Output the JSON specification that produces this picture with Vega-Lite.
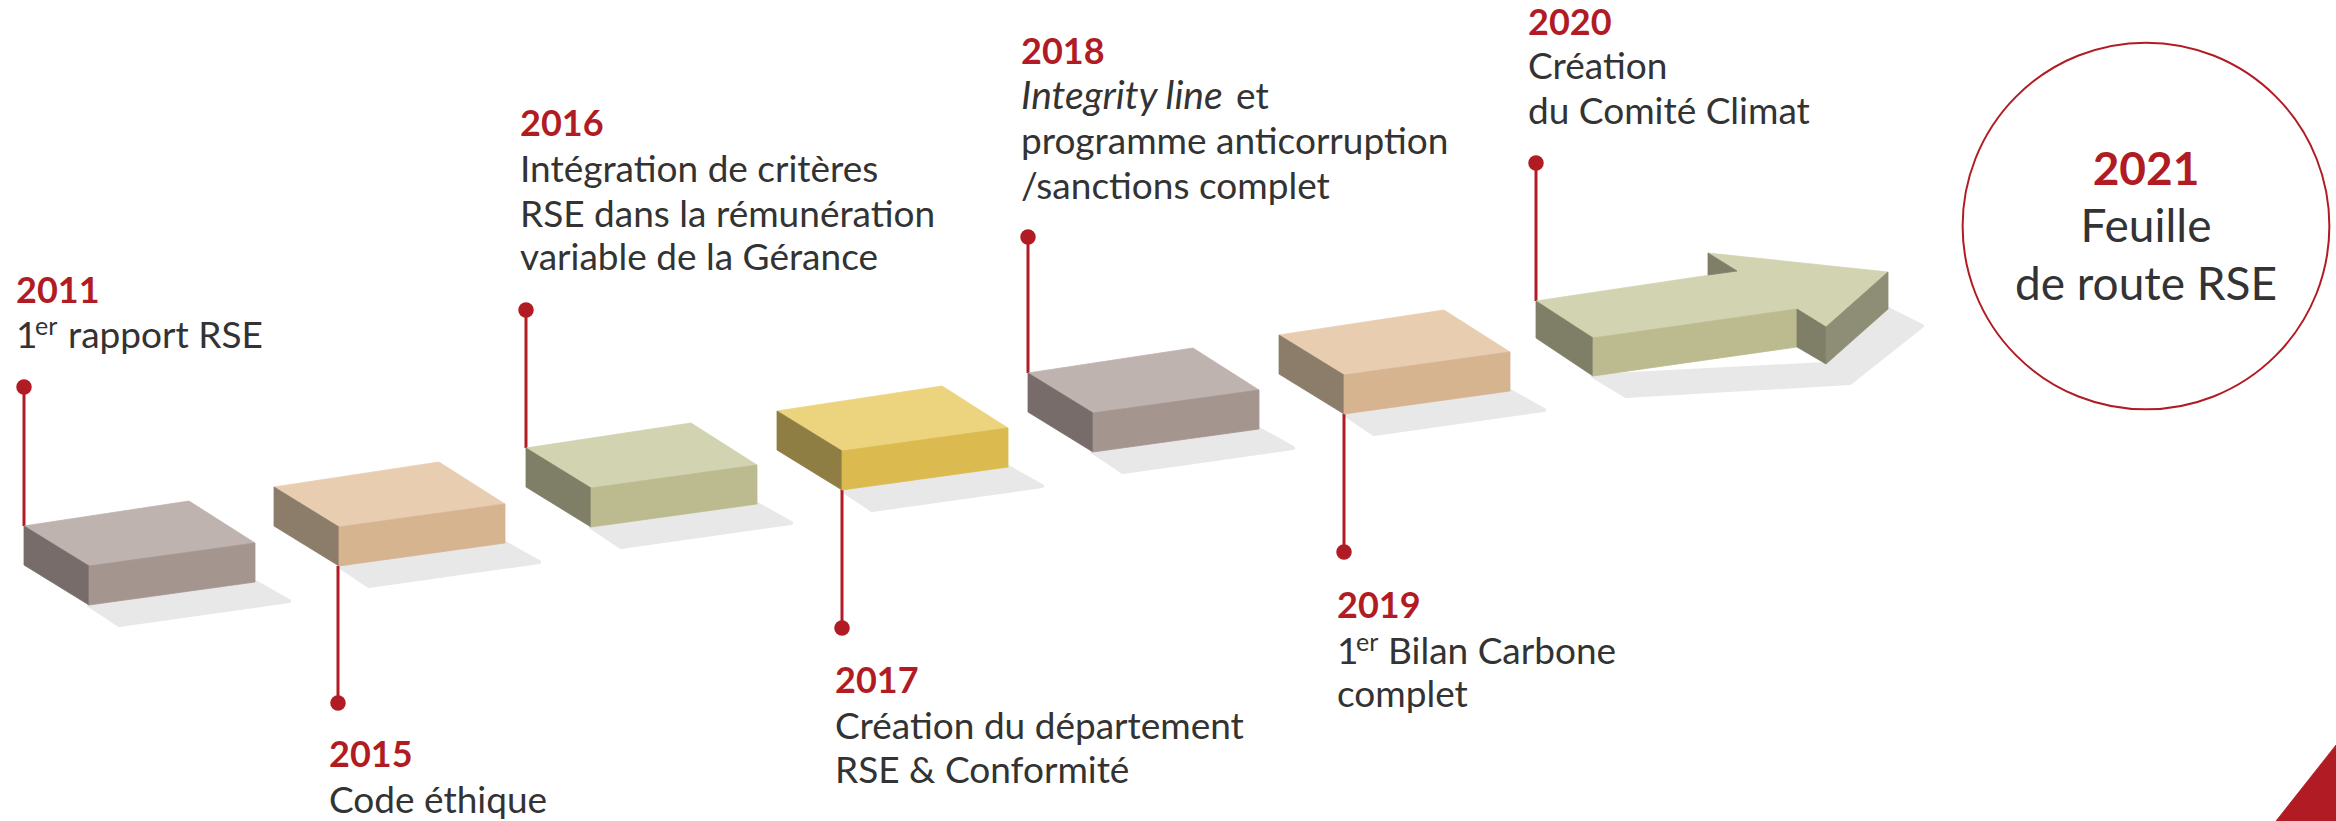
{
  "$schema": "https://vega.github.io/schema/vega-lite/v6.json",
  "width": 2336,
  "height": 821,
  "autosize": {"type": "none"},
  "padding": 0,
  "background": "white",
  "config": {"view": {"stroke": null}},
  "encoding": {
    "x": {"field": "x", "type": "quantitative", "scale": {"domain": [0, 2336], "nice": false, "zero": false}, "axis": null},
    "y": {"field": "y", "type": "quantitative", "scale": {"domain": [0, 821], "reverse": true, "nice": false, "zero": false}, "axis": null}
  },
  "layer": [
    {
      "data": {"values": [
        {"p": "s1", "i": 0, "x": 89, "y": 605}, {"p": "s1", "i": 1, "x": 255, "y": 582}, {"p": "s1", "i": 2, "x": 289, "y": 601}, {"p": "s1", "i": 3, "x": 119, "y": 625},
        {"p": "s2", "i": 0, "x": 339, "y": 566}, {"p": "s2", "i": 1, "x": 505, "y": 543}, {"p": "s2", "i": 2, "x": 539, "y": 562}, {"p": "s2", "i": 3, "x": 369, "y": 586},
        {"p": "s3", "i": 0, "x": 591, "y": 527}, {"p": "s3", "i": 1, "x": 757, "y": 504}, {"p": "s3", "i": 2, "x": 791, "y": 523}, {"p": "s3", "i": 3, "x": 621, "y": 547},
        {"p": "s4", "i": 0, "x": 842, "y": 490}, {"p": "s4", "i": 1, "x": 1008, "y": 467}, {"p": "s4", "i": 2, "x": 1042, "y": 486}, {"p": "s4", "i": 3, "x": 872, "y": 510},
        {"p": "s5", "i": 0, "x": 1093, "y": 452}, {"p": "s5", "i": 1, "x": 1259, "y": 429}, {"p": "s5", "i": 2, "x": 1293, "y": 448}, {"p": "s5", "i": 3, "x": 1123, "y": 472},
        {"p": "s6", "i": 0, "x": 1344, "y": 414}, {"p": "s6", "i": 1, "x": 1510, "y": 391}, {"p": "s6", "i": 2, "x": 1544, "y": 410}, {"p": "s6", "i": 3, "x": 1374, "y": 434},
        {"p": "s7", "i": 0, "x": 1593, "y": 376}, {"p": "s7", "i": 1, "x": 1826, "y": 364}, {"p": "s7", "i": 2, "x": 1888, "y": 309}, {"p": "s7", "i": 3, "x": 1922, "y": 326}, {"p": "s7", "i": 4, "x": 1850, "y": 383}, {"p": "s7", "i": 5, "x": 1626, "y": 396}
      ]},
      "mark": {"type": "line", "interpolate": "linear-closed", "fill": "#e6e6e6", "stroke": "#e6e6e6", "strokeWidth": 4, "strokeJoin": "round", "opacity": 0.9},
      "encoding": {"detail": {"field": "p"}, "order": {"field": "i", "type": "quantitative"}}
    },
    {
      "data": {"values": [
        {"x": 24, "y": 387, "y2": 526},
        {"x": 338, "y": 566, "y2": 703},
        {"x": 526, "y": 310, "y2": 448},
        {"x": 842, "y": 490, "y2": 628},
        {"x": 1028, "y": 237, "y2": 373},
        {"x": 1344, "y": 414, "y2": 552},
        {"x": 1536, "y": 163, "y2": 301}
      ]},
      "mark": {"type": "rule", "color": "#B11C24", "strokeWidth": 3},
      "encoding": {"y2": {"field": "y2"}}
    },
    {
      "data": {"values": [
        {"p": "b1t", "tone": "mauve-top", "i": 0, "x": 24, "y": 526}, {"p": "b1t", "tone": "mauve-top", "i": 1, "x": 189, "y": 501}, {"p": "b1t", "tone": "mauve-top", "i": 2, "x": 255, "y": 543}, {"p": "b1t", "tone": "mauve-top", "i": 3, "x": 89, "y": 566},
        {"p": "b1l", "tone": "mauve-left", "i": 0, "x": 24, "y": 526}, {"p": "b1l", "tone": "mauve-left", "i": 1, "x": 89, "y": 566}, {"p": "b1l", "tone": "mauve-left", "i": 2, "x": 89, "y": 605}, {"p": "b1l", "tone": "mauve-left", "i": 3, "x": 24, "y": 565},
        {"p": "b1f", "tone": "mauve-front", "i": 0, "x": 89, "y": 566}, {"p": "b1f", "tone": "mauve-front", "i": 1, "x": 255, "y": 543}, {"p": "b1f", "tone": "mauve-front", "i": 2, "x": 255, "y": 582}, {"p": "b1f", "tone": "mauve-front", "i": 3, "x": 89, "y": 605},

        {"p": "b2t", "tone": "tan-top", "i": 0, "x": 274, "y": 487}, {"p": "b2t", "tone": "tan-top", "i": 1, "x": 439, "y": 462}, {"p": "b2t", "tone": "tan-top", "i": 2, "x": 505, "y": 504}, {"p": "b2t", "tone": "tan-top", "i": 3, "x": 339, "y": 527},
        {"p": "b2l", "tone": "tan-left", "i": 0, "x": 274, "y": 487}, {"p": "b2l", "tone": "tan-left", "i": 1, "x": 339, "y": 527}, {"p": "b2l", "tone": "tan-left", "i": 2, "x": 339, "y": 566}, {"p": "b2l", "tone": "tan-left", "i": 3, "x": 274, "y": 526},
        {"p": "b2f", "tone": "tan-front", "i": 0, "x": 339, "y": 527}, {"p": "b2f", "tone": "tan-front", "i": 1, "x": 505, "y": 504}, {"p": "b2f", "tone": "tan-front", "i": 2, "x": 505, "y": 543}, {"p": "b2f", "tone": "tan-front", "i": 3, "x": 339, "y": 566},

        {"p": "b3t", "tone": "green-top", "i": 0, "x": 526, "y": 448}, {"p": "b3t", "tone": "green-top", "i": 1, "x": 691, "y": 423}, {"p": "b3t", "tone": "green-top", "i": 2, "x": 757, "y": 465}, {"p": "b3t", "tone": "green-top", "i": 3, "x": 591, "y": 488},
        {"p": "b3l", "tone": "green-left", "i": 0, "x": 526, "y": 448}, {"p": "b3l", "tone": "green-left", "i": 1, "x": 591, "y": 488}, {"p": "b3l", "tone": "green-left", "i": 2, "x": 591, "y": 527}, {"p": "b3l", "tone": "green-left", "i": 3, "x": 526, "y": 487},
        {"p": "b3f", "tone": "green-front", "i": 0, "x": 591, "y": 488}, {"p": "b3f", "tone": "green-front", "i": 1, "x": 757, "y": 465}, {"p": "b3f", "tone": "green-front", "i": 2, "x": 757, "y": 504}, {"p": "b3f", "tone": "green-front", "i": 3, "x": 591, "y": 527},

        {"p": "b4t", "tone": "yellow-top", "i": 0, "x": 777, "y": 411}, {"p": "b4t", "tone": "yellow-top", "i": 1, "x": 942, "y": 386}, {"p": "b4t", "tone": "yellow-top", "i": 2, "x": 1008, "y": 428}, {"p": "b4t", "tone": "yellow-top", "i": 3, "x": 842, "y": 451},
        {"p": "b4l", "tone": "yellow-left", "i": 0, "x": 777, "y": 411}, {"p": "b4l", "tone": "yellow-left", "i": 1, "x": 842, "y": 451}, {"p": "b4l", "tone": "yellow-left", "i": 2, "x": 842, "y": 490}, {"p": "b4l", "tone": "yellow-left", "i": 3, "x": 777, "y": 450},
        {"p": "b4f", "tone": "yellow-front", "i": 0, "x": 842, "y": 451}, {"p": "b4f", "tone": "yellow-front", "i": 1, "x": 1008, "y": 428}, {"p": "b4f", "tone": "yellow-front", "i": 2, "x": 1008, "y": 467}, {"p": "b4f", "tone": "yellow-front", "i": 3, "x": 842, "y": 490},

        {"p": "b5t", "tone": "mauve-top", "i": 0, "x": 1028, "y": 373}, {"p": "b5t", "tone": "mauve-top", "i": 1, "x": 1193, "y": 348}, {"p": "b5t", "tone": "mauve-top", "i": 2, "x": 1259, "y": 390}, {"p": "b5t", "tone": "mauve-top", "i": 3, "x": 1093, "y": 413},
        {"p": "b5l", "tone": "mauve-left", "i": 0, "x": 1028, "y": 373}, {"p": "b5l", "tone": "mauve-left", "i": 1, "x": 1093, "y": 413}, {"p": "b5l", "tone": "mauve-left", "i": 2, "x": 1093, "y": 452}, {"p": "b5l", "tone": "mauve-left", "i": 3, "x": 1028, "y": 412},
        {"p": "b5f", "tone": "mauve-front", "i": 0, "x": 1093, "y": 413}, {"p": "b5f", "tone": "mauve-front", "i": 1, "x": 1259, "y": 390}, {"p": "b5f", "tone": "mauve-front", "i": 2, "x": 1259, "y": 429}, {"p": "b5f", "tone": "mauve-front", "i": 3, "x": 1093, "y": 452},

        {"p": "b6t", "tone": "tan-top", "i": 0, "x": 1279, "y": 335}, {"p": "b6t", "tone": "tan-top", "i": 1, "x": 1444, "y": 310}, {"p": "b6t", "tone": "tan-top", "i": 2, "x": 1510, "y": 352}, {"p": "b6t", "tone": "tan-top", "i": 3, "x": 1344, "y": 375},
        {"p": "b6l", "tone": "tan-left", "i": 0, "x": 1279, "y": 335}, {"p": "b6l", "tone": "tan-left", "i": 1, "x": 1344, "y": 375}, {"p": "b6l", "tone": "tan-left", "i": 2, "x": 1344, "y": 414}, {"p": "b6l", "tone": "tan-left", "i": 3, "x": 1279, "y": 374},
        {"p": "b6f", "tone": "tan-front", "i": 0, "x": 1344, "y": 375}, {"p": "b6f", "tone": "tan-front", "i": 1, "x": 1510, "y": 352}, {"p": "b6f", "tone": "tan-front", "i": 2, "x": 1510, "y": 391}, {"p": "b6f", "tone": "tan-front", "i": 3, "x": 1344, "y": 414},

        {"p": "a-top", "tone": "green-top", "i": 0, "x": 1536, "y": 301}, {"p": "a-top", "tone": "green-top", "i": 1, "x": 1737, "y": 271}, {"p": "a-top", "tone": "green-top", "i": 2, "x": 1708, "y": 253}, {"p": "a-top", "tone": "green-top", "i": 3, "x": 1888, "y": 272}, {"p": "a-top", "tone": "green-top", "i": 4, "x": 1826, "y": 327}, {"p": "a-top", "tone": "green-top", "i": 5, "x": 1797, "y": 309}, {"p": "a-top", "tone": "green-top", "i": 6, "x": 1593, "y": 338},
        {"p": "a-back", "tone": "green-left", "i": 0, "x": 1708, "y": 253}, {"p": "a-back", "tone": "green-left", "i": 1, "x": 1737, "y": 271}, {"p": "a-back", "tone": "green-left", "i": 2, "x": 1708, "y": 275},
        {"p": "a-left", "tone": "green-left", "i": 0, "x": 1536, "y": 301}, {"p": "a-left", "tone": "green-left", "i": 1, "x": 1593, "y": 338}, {"p": "a-left", "tone": "green-left", "i": 2, "x": 1593, "y": 376}, {"p": "a-left", "tone": "green-left", "i": 3, "x": 1536, "y": 338},
        {"p": "a-front", "tone": "green-front", "i": 0, "x": 1593, "y": 338}, {"p": "a-front", "tone": "green-front", "i": 1, "x": 1797, "y": 309}, {"p": "a-front", "tone": "green-front", "i": 2, "x": 1797, "y": 347}, {"p": "a-front", "tone": "green-front", "i": 3, "x": 1593, "y": 376},
        {"p": "a-notch", "tone": "green-left", "i": 0, "x": 1797, "y": 309}, {"p": "a-notch", "tone": "green-left", "i": 1, "x": 1826, "y": 327}, {"p": "a-notch", "tone": "green-left", "i": 2, "x": 1826, "y": 364}, {"p": "a-notch", "tone": "green-left", "i": 3, "x": 1797, "y": 347},
        {"p": "a-head", "tone": "green-head", "i": 0, "x": 1826, "y": 327}, {"p": "a-head", "tone": "green-head", "i": 1, "x": 1888, "y": 272}, {"p": "a-head", "tone": "green-head", "i": 2, "x": 1888, "y": 309}, {"p": "a-head", "tone": "green-head", "i": 3, "x": 1826, "y": 364},

        {"p": "corner", "tone": "red", "i": 0, "x": 2336, "y": 745}, {"p": "corner", "tone": "red", "i": 1, "x": 2336, "y": 821}, {"p": "corner", "tone": "red", "i": 2, "x": 2276, "y": 821}
      ]},
      "mark": {"type": "line", "interpolate": "linear-closed", "strokeWidth": 0.8, "strokeJoin": "miter"},
      "encoding": {
        "detail": {"field": "p"},
        "order": {"field": "i", "type": "quantitative"},
        "fill": {"field": "tone", "type": "nominal", "legend": null, "scale": {
          "domain": ["mauve-top", "mauve-left", "mauve-front", "tan-top", "tan-left", "tan-front", "green-top", "green-left", "green-front", "green-head", "yellow-top", "yellow-left", "yellow-front", "red"],
          "range": ["#BFB3AF", "#776C69", "#A4958F", "#E8CDB0", "#8B7D69", "#D6B490", "#D2D3B0", "#7F7F67", "#BBBB8F", "#8E8E77", "#ECD37E", "#8F7E44", "#DBBA4F", "#B11C24"]}},
        "stroke": {"field": "tone", "type": "nominal", "legend": null, "scale": {
          "domain": ["mauve-top", "mauve-left", "mauve-front", "tan-top", "tan-left", "tan-front", "green-top", "green-left", "green-front", "green-head", "yellow-top", "yellow-left", "yellow-front", "red"],
          "range": ["#BFB3AF", "#776C69", "#A4958F", "#E8CDB0", "#8B7D69", "#D6B490", "#D2D3B0", "#7F7F67", "#BBBB8F", "#8E8E77", "#ECD37E", "#8F7E44", "#DBBA4F", "#B11C24"]}}
      }
    },
    {
      "data": {"values": [
        {"x": 24, "y": 387}, {"x": 338, "y": 703}, {"x": 526, "y": 310}, {"x": 842, "y": 628},
        {"x": 1028, "y": 237}, {"x": 1344, "y": 552}, {"x": 1536, "y": 163}
      ]},
      "mark": {"type": "circle", "size": 240, "color": "#B11C24", "opacity": 1}
    },
    {
      "data": {"values": [{"x": 2146, "y": 226}]},
      "mark": {"type": "point", "shape": "circle", "size": 134500, "filled": false, "stroke": "#B11C24", "strokeWidth": 2, "opacity": 1}
    },
    {
      "data": {"values": [
        {"x": 16, "y": 303, "t": "2011"},
        {"x": 329, "y": 767, "t": "2015"},
        {"x": 520, "y": 136, "t": "2016"},
        {"x": 835, "y": 693, "t": "2017"},
        {"x": 1021, "y": 64, "t": "2018"},
        {"x": 1337, "y": 618, "t": "2019"},
        {"x": 1528, "y": 35, "t": "2020"}
      ]},
      "mark": {"type": "text", "font": "Lato", "fontSize": 36, "fontWeight": "bold", "color": "#B11C24", "align": "left", "baseline": "alphabetic"},
      "encoding": {"text": {"field": "t"}}
    },
    {
      "data": {"values": [
        {"x": 16, "y": 348, "t": "1"},
        {"x": 68, "y": 348, "t": "rapport RSE"},
        {"x": 329, "y": 813, "t": "Code éthique"},
        {"x": 520, "y": 182, "t": "Intégration de critères"},
        {"x": 520, "y": 227, "t": "RSE dans la rémunération"},
        {"x": 520, "y": 270, "t": "variable de la Gérance"},
        {"x": 835, "y": 739, "t": "Création du département"},
        {"x": 835, "y": 783, "t": "RSE & Conformité"},
        {"x": 1236, "y": 109, "t": "et"},
        {"x": 1021, "y": 154, "t": "programme anticorruption"},
        {"x": 1021, "y": 199, "t": "/sanctions complet"},
        {"x": 1337, "y": 664, "t": "1"},
        {"x": 1388, "y": 664, "t": "Bilan Carbone"},
        {"x": 1337, "y": 707, "t": "complet"},
        {"x": 1528, "y": 79, "t": "Création"},
        {"x": 1528, "y": 124, "t": "du Comité Climat"}
      ]},
      "mark": {"type": "text", "font": "Lato", "fontSize": 37, "color": "#333333", "align": "left", "baseline": "alphabetic"},
      "encoding": {"text": {"field": "t"}}
    },
    {
      "data": {"values": [{"x": 1021, "y": 109, "t": "Integrity line"}]},
      "mark": {"type": "text", "font": "Lato", "fontSize": 39, "fontStyle": "italic", "color": "#333333", "align": "left", "baseline": "alphabetic"},
      "encoding": {"text": {"field": "t"}}
    },
    {
      "data": {"values": [{"x": 35, "y": 335, "t": "er"}, {"x": 1356, "y": 651, "t": "er"}]},
      "mark": {"type": "text", "font": "Lato", "fontSize": 25, "color": "#333333", "align": "left", "baseline": "alphabetic"},
      "encoding": {"text": {"field": "t"}}
    },
    {
      "data": {"values": [{"x": 2146, "y": 185, "t": "2021"}]},
      "mark": {"type": "text", "font": "Lato", "fontSize": 46, "fontWeight": "bold", "color": "#B11C24", "align": "center", "baseline": "alphabetic"},
      "encoding": {"text": {"field": "t"}}
    },
    {
      "data": {"values": [{"x": 2146, "y": 242, "t": "Feuille"}, {"x": 2146, "y": 300, "t": "de route RSE"}]},
      "mark": {"type": "text", "font": "Lato", "fontSize": 46, "color": "#333333", "align": "center", "baseline": "alphabetic"},
      "encoding": {"text": {"field": "t"}}
    }
  ]
}
